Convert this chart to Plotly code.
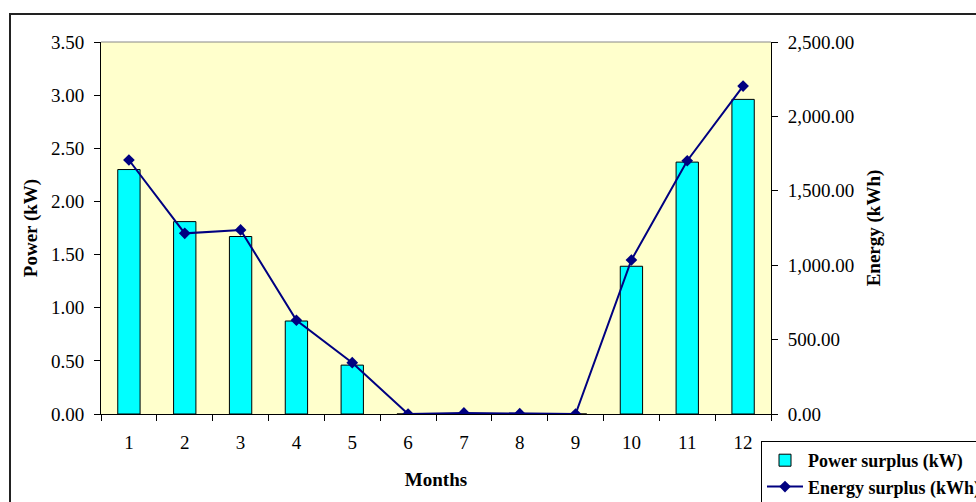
import plotly.graph_objects as go

months = ["1", "2", "3", "4", "5", "6", "7", "8", "9", "10", "11", "12"]
power_kw = [2.30, 1.81, 1.67, 0.875, 0.46, 0.0, 0.0, 0.0, 0.0, 1.39, 2.37, 2.96]
energy_kwh = [1707, 1214, 1237, 630, 345, 0, 7, 2, 0, 1035, 1702, 2204]

FONT = "Liberation Serif, Times New Roman, serif"
W, H = 976, 502
L, R, T, B = 101, 205, 42, 88
pw, ph = W - L - R, H - T - B

fig = go.Figure()
fig.add_trace(go.Bar(
    x=months, y=power_kw, name="Power surplus (kW)",
    marker=dict(color="#00FFFF", line=dict(color="#000000", width=1)),
    width=0.4, yaxis="y", xaxis="x",
))
fig.add_trace(go.Scatter(
    x=months, y=energy_kwh, name="Energy surplus (kWh)",
    mode="lines+markers",
    line=dict(color="#000080", width=2),
    marker=dict(symbol="diamond", size=9, color="#000080"),
    yaxis="y2", xaxis="x",
))

n = len(months)
bounds = [i - 0.5 for i in range(n + 1)]

FS = 19
axis_font = dict(family=FONT, size=FS, color="#000000")
title_font = dict(family=FONT, size=FS, color="#000000", weight="bold")

fig.update_layout(
    width=W, height=H,
    margin=dict(l=L, r=R, t=T, b=B, autoexpand=False),
    paper_bgcolor="#FFFFFF",
    plot_bgcolor="#FFFFCC",
    showlegend=True,
    xaxis=dict(
        type="category", range=[-0.5, n - 0.5], tickson="boundaries",
        ticks="outside", ticklen=6, tickcolor="#000000", tickwidth=1,
        showline=True, linecolor="#000000", linewidth=1,
        showgrid=False, zeroline=False, tickfont=axis_font,
        ticklabelstandoff=11,
        title=dict(text="Months", font=title_font, standoff=20),
        fixedrange=True,
    ),
    xaxis3=dict(
        overlaying="x", range=[-0.5, n - 0.5], tickmode="array", tickvals=bounds,
        ticks="inside", ticklen=6, tickcolor="#000000", tickwidth=1,
        showticklabels=False, showline=False, showgrid=False, zeroline=False,
        anchor="y",
    ),
    yaxis=dict(
        range=[0, 3.5], dtick=0.5, tickformat=".2f",
        ticks="outside", ticklen=6, tickcolor="#000000", tickwidth=1,
        showline=True, linecolor="#000000", linewidth=1,
        showgrid=False, zeroline=False, tickfont=axis_font,
        ticklabelstandoff=6,
        title=dict(text="Power (kW)", font=title_font, standoff=8),
    ),
    yaxis3=dict(
        overlaying="y", range=[0, 3.5], dtick=0.5,
        ticks="inside", ticklen=6, tickcolor="#000000", tickwidth=1,
        showticklabels=False, showline=False, showgrid=False, zeroline=False,
        anchor="x",
    ),
    yaxis2=dict(
        overlaying="y", side="right", anchor="x",
        range=[0, 2500], dtick=500, tickformat=",.2f",
        ticks="outside", ticklen=6, tickcolor="#000000", tickwidth=1,
        showline=True, linecolor="#000000", linewidth=1,
        showgrid=False, zeroline=False, tickfont=axis_font,
        ticklabelstandoff=6,
        title=dict(text="Energy (kWh)", font=title_font, standoff=13),
    ),
    yaxis4=dict(
        overlaying="y", side="right", anchor="x",
        range=[0, 2500], dtick=500,
        ticks="inside", ticklen=6, tickcolor="#000000", tickwidth=1,
        showticklabels=False, showline=False, showgrid=False, zeroline=False,
    ),
    legend=dict(
        x=(761 - L) / pw, y=(T + ph - 441) / ph, xanchor="left", yanchor="top",
        bgcolor="#FFFFFF", bordercolor="#000000", borderwidth=1,
        font=dict(family=FONT, size=18, color="#000000", weight="bold"),
        traceorder="normal", itemwidth=36, tracegroupgap=0,
    ),
    shapes=[
        dict(type="rect", xref="paper", yref="paper",
             x0=(10 - L) / pw, x1=(1000 - L) / pw,
             y0=(T + ph - 530) / ph, y1=(T + ph - 14) / ph,
             line=dict(color="#222222", width=2), fillcolor="rgba(0,0,0,0)", layer="below"),
        dict(type="line", xref="paper", yref="paper", x0=0, x1=1, y0=1, y1=1,
             line=dict(color="#888888", width=1)),
    ],
)

fig.write_html("out.html")
